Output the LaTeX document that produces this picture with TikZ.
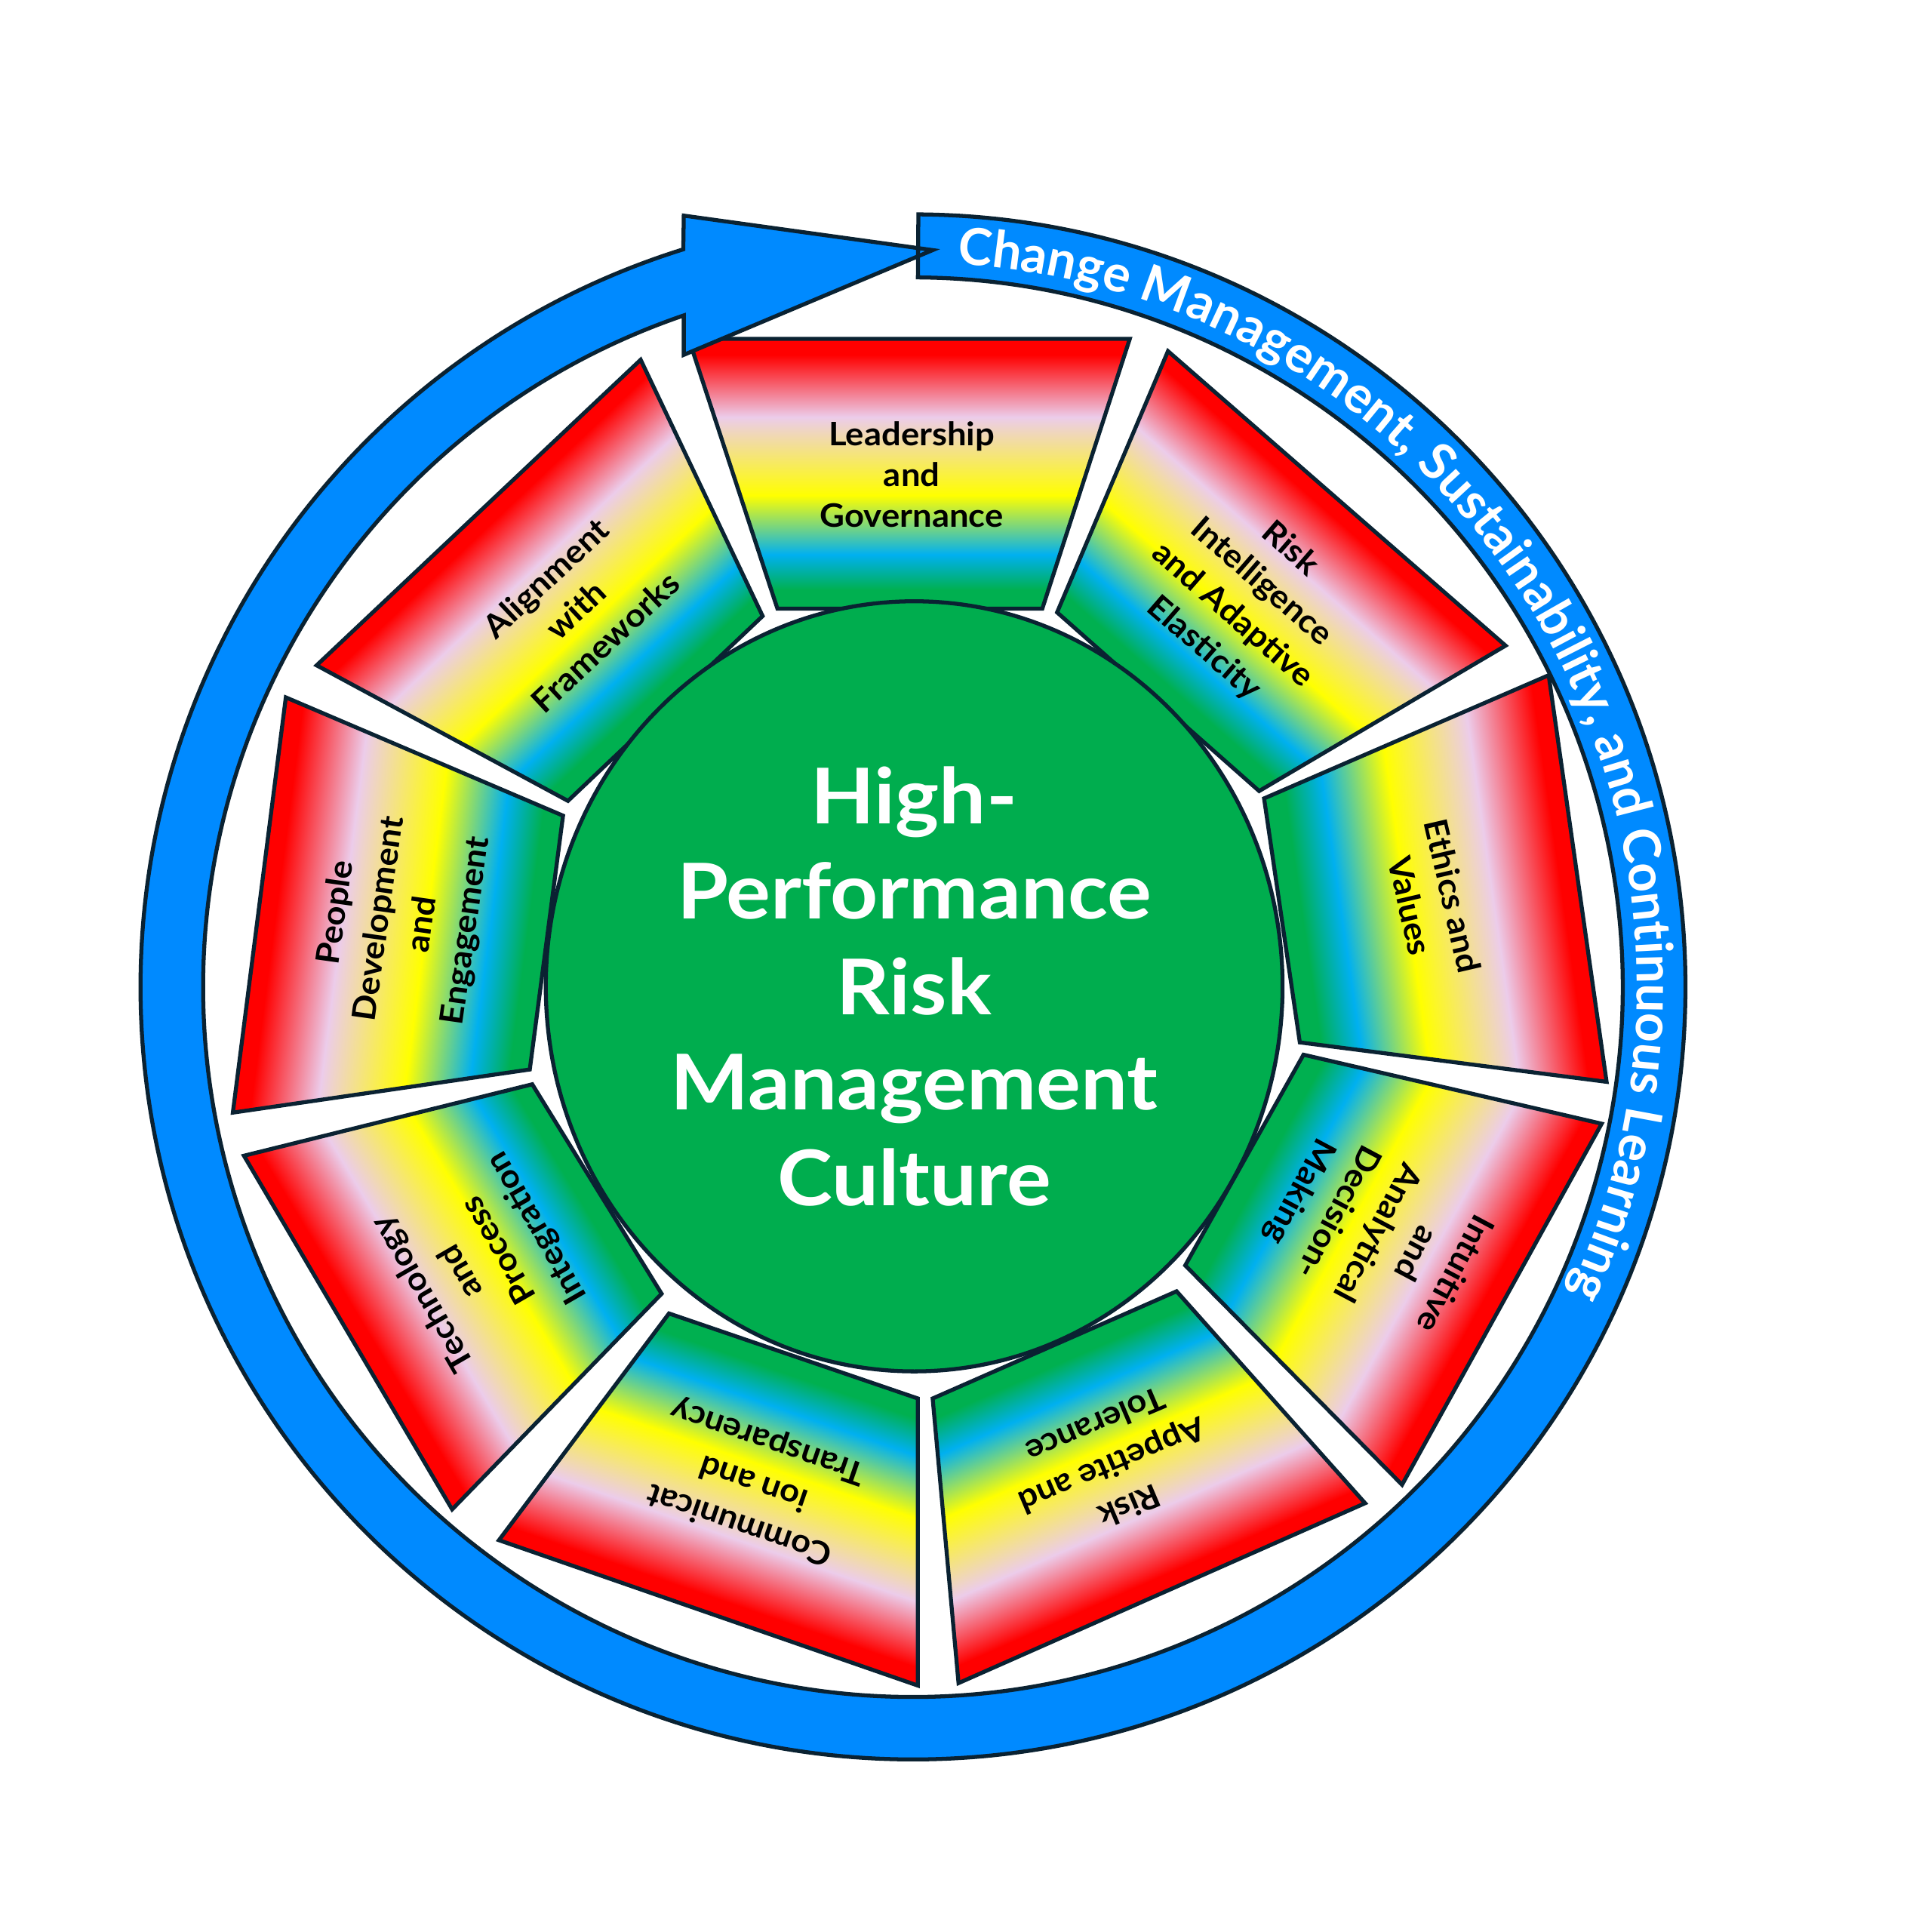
\documentclass[tikz,border=0pt]{standalone}
\usepackage{fontspec}
\setmainfont{Lato}
\newfontfamily\widefont[FakeStretch=1.08]{Lato}
\newfontfamily\labfont[FakeStretch=1.06]{Lato}
\usetikzlibrary{decorations.text}
\definecolor{sred}{RGB}{255,0,0}
\definecolor{spink}{RGB}{236,204,234}
\definecolor{syellow}{RGB}{255,255,0}
\definecolor{scyan}{RGB}{0,176,240}
\definecolor{sgreen}{RGB}{0,176,80}
\definecolor{outl}{RGB}{10,34,50}
\definecolor{ringblue}{RGB}{0,138,255}
\definecolor{coregreen}{RGB}{0,173,78}
\pgfdeclareverticalshading{segsh}{100bp}{color(0bp)=(sgreen); color(28.5bp)=(sgreen); color(35bp)=(scyan); color(46bp)=(syellow); color(60.5bp)=(spink); color(72bp)=(sred); color(100bp)=(sred)}
\newcommand\segpiece[4]{%
  \begin{scope}
    \clip #1 -- cycle;
    \begin{scope}[transform canvas={shift={(742,767.5)},rotate=#2}]
      \shade[shading=segsh] (-450,#3) rectangle (450,#4);
    \end{scope}
  \end{scope}
  \draw[segline] #1 -- cycle;
}
\begin{document}
\begin{tikzpicture}[x=0.016322cm, y=0.016326cm,
  segline/.style={draw=outl, line width=1.5pt, line join=miter},
  seglabel/.style={font=\labfont\bfseries\fontsize{12.2}{16.5}\selectfont, align=center, text=black, inner sep=0pt},
  outlined/.style={draw=outl, line width=1.5pt}]
\useasboundingbox (0,0) rectangle (1555,1568);
\fill[white] (0,0) rectangle (1555,1568);

% segments
\segpiece{(559,1293) -- (917,1293) -- (846,1074) -- (631,1074)}{0}{306.5}{525.5}
\segpiece{(948,1283) -- (1222,1044) -- (1022,926) -- (858,1071)}{-41.3}{304}{524}
\segpiece{(1257,1020) -- (1304,690) -- (1055,722) -- (1026,920)}{-81.8}{303}{545.5}
\segpiece{(1058,712) -- (1300,656) -- (1138,363) -- (962,541)}{-119.1}{303}{542}
\segpiece{(757,433) -- (955,520) -- (1108,348) -- (778,202)}{-156.2}{312}{532}
\segpiece{(745,433) -- (543,502) -- (405,318) -- (745,200)}{161}{315.5}{535}
\segpiece{(432,688) -- (537,518) -- (367,343) -- (198,630)}{121}{305.5}{538.5}
\segpiece{(232,1002) -- (457,906) -- (430,700) -- (189,665)}{82.6}{300.5}{535.6}
\segpiece{(520,1276) -- (619,1068) -- (461,918) -- (257,1028)}{43.4}{302.6}{522.2}

% core
\draw[outlined, fill=coregreen] (742,767.5) ellipse [x radius=299, y radius=312.5];
\node[font=\widefont\bfseries\fontsize{29}{36}\selectfont, text=white, align=center, inner sep=0pt] (core) at (742,767.5) {High-\\Performance\\Risk\\Management\\Culture};

% labels
\node[seglabel, font=\labfont\bfseries\fontsize{12.2}{15.3}\selectfont] (lead) at (740,1183) {Leadership\\and\\Governance};
\node[seglabel, rotate=-41] (intel) at (1012,1082) {Risk\\Intelligence\\and Adaptive\\Elasticity};
\node[seglabel, rotate=-77] (ethics) at (1162,837) {Ethics and\\Values};
\node[seglabel, rotate=-118] (intuit) at (1117,568) {Intuitive\\and\\Analytical\\Decision-\\Making};
\node[seglabel, rotate=-157] (appetite) at (903,378) {Risk\\Appetite and\\Tolerance};
\node[seglabel, rotate=161] (comm) at (612,365) {Communicat\\ion and\\Transparency};
\node[seglabel, rotate=120] (tech) at (390,545) {Technology\\and\\Process\\Integration};
\node[seglabel, rotate=82] (people) at (326,820) {People\\Development\\and\\Engagement};
\node[seglabel, rotate=43] (align) at (467,1073) {Alignment\\with\\Frameworks};

% ring arrow
\draw[outlined, fill=ringblue, line join=miter] (745.4,1394) arc[start angle=89.6, end angle=-252.7, radius=627] -- (555,1393) -- (757,1365) -- (555,1280) -- (555,1312) arc[start angle=-251.16, end angle=89.6, radius=576] -- cycle;
\path[decorate, decoration={text along path, text align=fit to path, text={|\color{white}\bfseries\fontsize{19.3}{19.3}\selectfont|Change Management, Sustainability, and Continuous Learning}}] (776.8,1353.9) arc[start angle=86.5, end angle=-24.7, radius=588];
\end{tikzpicture}
\end{document}
